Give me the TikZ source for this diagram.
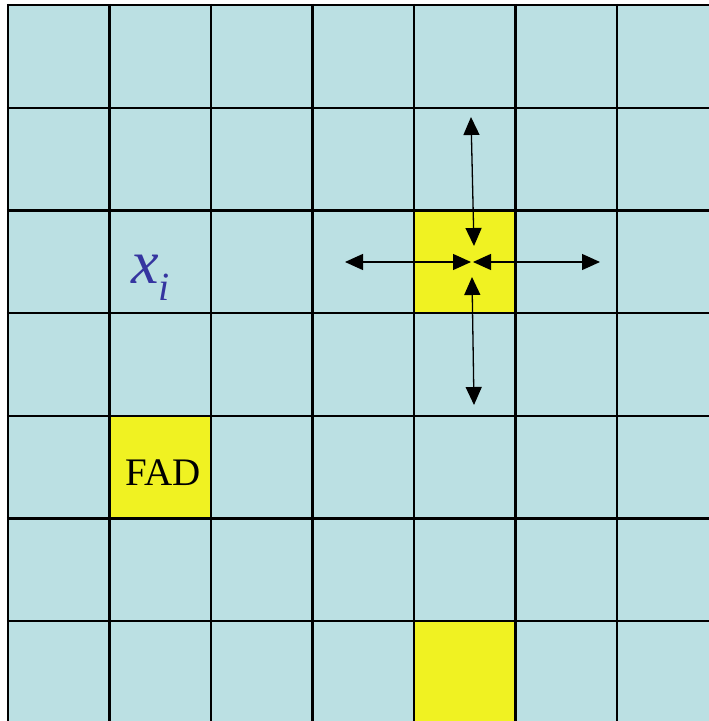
\documentclass[tikz,border=0pt]{standalone}
\usepackage{fontspec}
\setmainfont{Liberation Serif}
\usetikzlibrary{arrows.meta}
\definecolor{cellblue}{HTML}{BBE0E3}
\definecolor{cellyellow}{HTML}{F0F222}
\definecolor{labelblue}{HTML}{3535A0}
\begin{document}
\begin{tikzpicture}[x=1pt,y=-1pt,
  gridline/.style={line width=2.2pt, black},
  dblarrow/.style={{Triangle[length=18pt,width=16pt]}-{Triangle[length=18pt,width=16pt]}, line width=1.3pt},
  celltext/.style={inner sep=0pt}]
\useasboundingbox (0,0) rectangle (709,721);
\fill[cellblue] (8,5) rectangle (709,721);
\fill[cellyellow] (414,210.4) rectangle (515.5,313.1);
\fill[cellyellow] (109.5,415.8) rectangle (211,518.5);
\fill[cellyellow] (414,621.2) rectangle (515.5,721);
\foreach \k in {0,...,6} {
  \draw[gridline] ({8+101.5*\k},3.9) -- ({8+101.5*\k},721);
  \draw[gridline] (6.9,{5+102.7*\k}) -- (709,{5+102.7*\k});
}
\node[celltext, anchor=base west, text=labelblue] (xi) at (131,283)
  {\fontsize{62}{64}\selectfont\itshape x\raisebox{-17pt}{\fontsize{40}{42}\selectfont i}};
\node[celltext, anchor=base] (fad) at (163.5,485) {\fontsize{39}{41}\selectfont FAD};
\coordinate (lend) at (345,262);
\coordinate (lin) at (471,262);
\coordinate (rin) at (473,262);
\coordinate (rend) at (600,262);
\coordinate (tend) at (471,117);
\coordinate (tin) at (474,246);
\coordinate (bin) at (472,277);
\coordinate (bend) at (474,405);
\draw[dblarrow] (lend) -- (lin);
\draw[dblarrow] (rin) -- (rend);
\draw[dblarrow] (tend) -- (tin);
\draw[dblarrow] (bin) -- (bend);
\end{tikzpicture}
\end{document}
